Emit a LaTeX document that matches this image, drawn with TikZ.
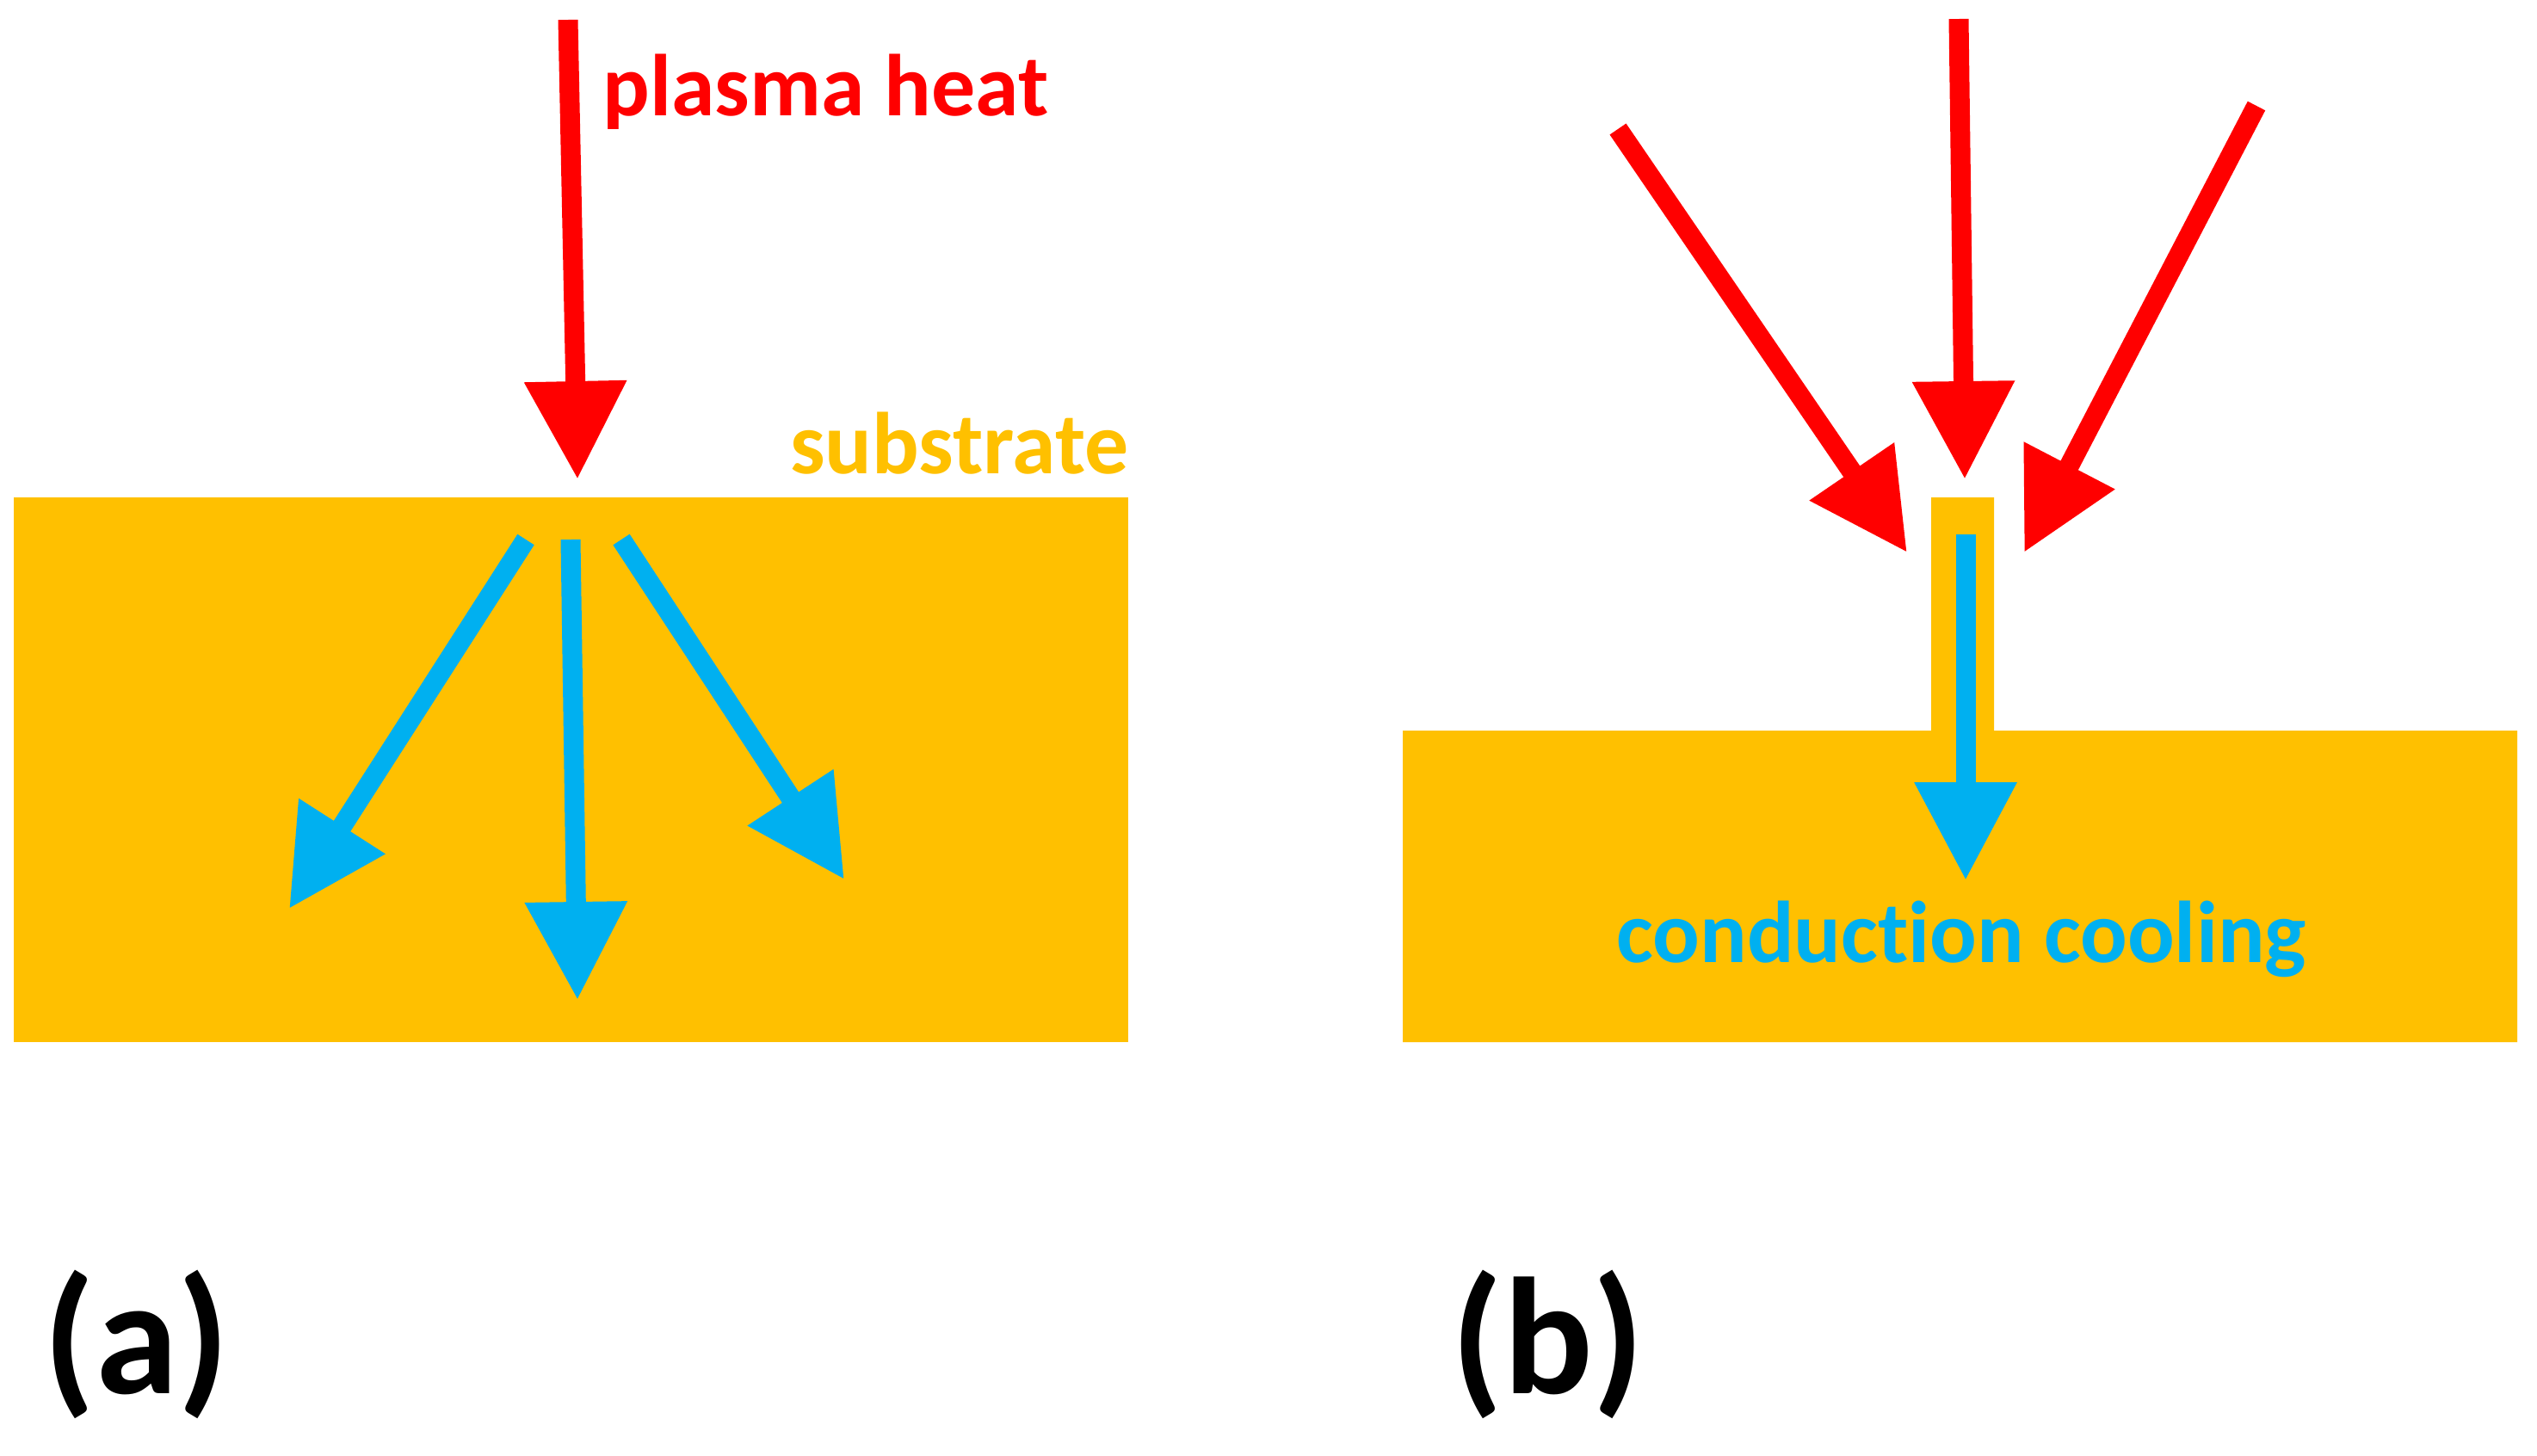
\documentclass[tikz,border=0pt]{standalone}
\usepackage{fontspec}
\setmainfont{Carlito}[RawFeature={-liga;-clig;-dlig}]
\usetikzlibrary{arrows.meta}
\definecolor{heatred}{HTML}{FF0000}
\definecolor{coolblue}{HTML}{00B0F0}
\definecolor{substrategold}{HTML}{FFC000}
\tikzset{
  heatarrow/.style={draw=heatred, line width=2.3mm, -{Triangle[length=11.4mm, width=11.3mm]}},
  coolarrow/.style={draw=coolblue, line width=2.3mm, -{Triangle[length=11.4mm, width=11.3mm]}},
  label/.style={font=\bfseries\fontsize{29}{34}\selectfont, inner sep=0pt},
  panel/.style={font=\bfseries\fontsize{55}{64}\selectfont, inner sep=0pt, anchor=base west}
}
\newcommand{\HeatArrow}[2]{\draw[heatarrow] (#1) -- (#2);}
\newcommand{\CoolArrow}[2]{\draw[coolarrow] (#1) -- (#2);}

\begin{document}
\begin{tikzpicture}
\useasboundingbox (0,0) rectangle (29.48,-16.91);

	\fill[substrategold] (0.16,-5.78) rectangle (13.11,-12.11);
	\fill[substrategold] (16.30,-8.49) -- (22.44,-8.49) -- (22.44,-5.78) -- (23.17,-5.78)
	  -- (23.17,-8.49) -- (29.25,-8.49) -- (29.25,-12.11) -- (16.30,-12.11) -- cycle;

	\coordinate (Ha) at (6.60,-0.23);
	\coordinate (Sa) at (6.71,-5.57);
	\coordinate (C1) at (6.11,-6.27);
	\coordinate (C2) at (6.63,-6.27);
	\coordinate (C3) at (7.22,-6.27);
	\coordinate (D1) at (3.36,-10.56);
	\coordinate (D2) at (6.71,-11.62);
	\coordinate (D3) at (9.81,-10.22);

	\coordinate (H1) at (18.80,-1.50);
	\coordinate (H2) at (22.76,-0.22);
	\coordinate (H3) at (26.22,-1.23);
	\coordinate (S1) at (22.16,-6.42);
	\coordinate (S2) at (22.83,-5.57);
	\coordinate (S3) at (23.52,-6.42);
	\coordinate (Cb) at (22.84,-6.21);
	\coordinate (Db) at (22.84,-10.23);

	\HeatArrow{Ha}{Sa}
	\CoolArrow{C1}{D1}
	\CoolArrow{C2}{D2}
	\CoolArrow{C3}{D3}

	\HeatArrow{H1}{S1}
	\HeatArrow{H2}{S2}
	\HeatArrow{H3}{S3}
	\CoolArrow{Cb}{Db}

	\node[label, text=heatred, anchor=base west] (plasma) at (7.00,-1.34) {plasma heat};
	\node[label, text=substrategold, anchor=base east] (substrate) at (13.12,-5.50) {substrate};
	\node[label, text=coolblue, anchor=base] (cooling) at (22.79,-11.18) {conduction cooling};

	\node[panel] (pa) at (0.50,-16.19) {(a)};
	\node[panel] (pb) at (16.86,-16.19) {(b)};

\end{tikzpicture}
\end{document}
